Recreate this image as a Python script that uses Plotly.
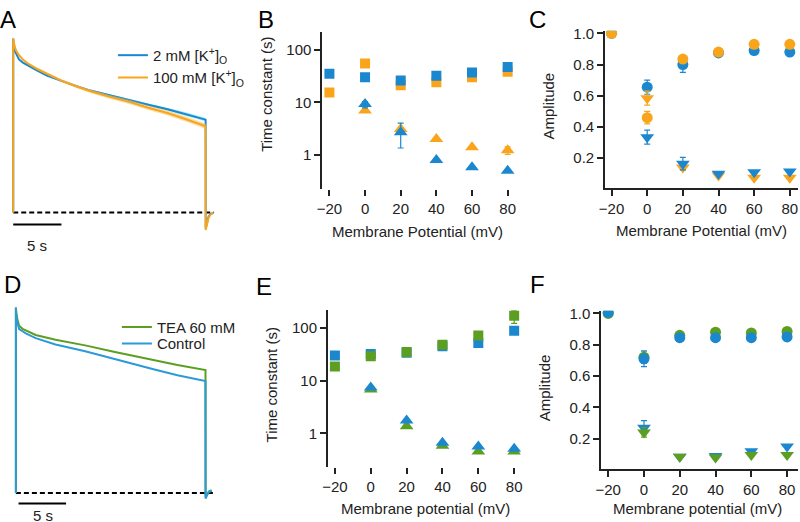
import plotly.graph_objects as go

W, H = 800, 522

# ---- panel A: normalized current traces (2 mM vs 100 mM [K+]o)
t_a = [0, 0, 0.05, 0.15, 0.3, 0.6, 1.0, 1.5, 2.5, 3.5, 5, 6.5, 8, 10, 12, 14, 16, 18, 19.95,
       19.96, 20.1, 20.25, 20.45, 20.7]
i_a_2mm = [0, 1.0, 0.96, 0.93, 0.91, 0.88, 0.862, 0.845, 0.815, 0.787, 0.755, 0.727, 0.701,
           0.673, 0.645, 0.62, 0.594, 0.565, 0.534, -0.09, -0.05, -0.025, -0.01, -0.002]
i_a_100mm = [0, 1.0, 0.985, 0.955, 0.93, 0.905, 0.88, 0.858, 0.825, 0.798, 0.758, 0.726, 0.697,
             0.665, 0.636, 0.602, 0.572, 0.535, 0.496, -0.1, -0.06, -0.03, -0.012, -0.003]
sem_a_2mm = [0, 0, 0, 0, 0.002, 0.003, 0.003, 0.004, 0.004, 0.005, 0.005, 0.006, 0.006,
             0.007, 0.008, 0.008, 0.009, 0.01, 0.01, 0, 0, 0, 0, 0]
sem_a_100mm = [0, 0, 0, 0, 0.002, 0.003, 0.004, 0.005, 0.006, 0.007, 0.008, 0.009, 0.01,
               0.011, 0.012, 0.013, 0.014, 0.015, 0.016, 0, 0, 0, 0, 0]

# ---- panel D: TEA 60 mM vs control
t_d = [0, 0, 0.05, 0.15, 0.34, 0.7, 1.04, 2.08, 4.17, 7.29, 10.42, 14.58, 17, 19.95,
       19.96, 20.1, 20.3, 20.6]
i_d_tea = [0, 1.0, 0.97, 0.94, 0.902, 0.885, 0.876, 0.852, 0.826, 0.796, 0.76, 0.716, 0.69, 0.663,
           -0.02, -0.008, 0.006, 0.012]
i_d_ctrl = [0, 1.0, 0.955, 0.92, 0.884, 0.872, 0.861, 0.835, 0.801, 0.764, 0.721, 0.666, 0.635, 0.604,
            -0.03, -0.012, 0.008, 0.015]

vm = [-20, 0, 20, 40, 60, 80]

# ---- panel B: time constants (s)
tau_slow_2mm = [35, 30, 26, 32, 37, 47]
tau_slow_100mm = [15.4, 55, 21, 24, 30, 38]
tau_fast_2mm = [None, 9.3, 2.7, 0.8, 0.58, 0.5]
tau_fast_2mm_err_up = [0, 1.0, 1.3, 0, 0, 0]
tau_fast_2mm_err_dn = [0, 1.5, 1.35, 0, 0, 0]
tau_fast_100mm = [None, 7.0, 3.1, 2.0, 1.4, 1.22]
tau_fast_100mm_err = [0, 0.4, 0, 0, 0, 0.2]

# ---- panel C: amplitudes
amp_slow_2mm = [1.0, 0.655, 0.80, 0.875, 0.89, 0.88]
amp_slow_2mm_err = [0, 0.045, 0.05, 0, 0, 0]
amp_slow_100mm = [1.0, 0.46, 0.835, 0.88, 0.93, 0.93]
amp_slow_100mm_err = [0, 0.04, 0.01, 0, 0, 0]
amp_fast_2mm = [None, 0.335, 0.165, 0.10, 0.11, 0.115]
amp_fast_2mm_err = [0, 0.045, 0.04, 0, 0, 0]
amp_fast_100mm = [None, 0.585, 0.14, 0.09, 0.075, 0.075]
amp_fast_100mm_err = [0, 0.045, 0.015, 0, 0, 0]

# ---- panel E: time constants, TEA
tau_slow_ctrl = [30, 32, 34, 45, 52, 89]
tau_slow_tea = [18.5, 29, 35, 48, 72, 170]
tau_slow_tea_err = [0, 0, 0, 0, 0, 48]
tau_fast_ctrl = [None, 7.4, 1.75, 0.66, 0.56, 0.51]
tau_fast_tea = [None, 6.8, 1.37, 0.58, 0.45, 0.45]
tau_fast_tea_err = [0, 0, 0.12, 0, 0, 0]

# ---- panel F: amplitudes, TEA
amp_slow_ctrl = [1.006, 0.71, 0.845, 0.845, 0.845, 0.85]
amp_slow_ctrl_err = [0, 0.05, 0, 0, 0, 0]
amp_slow_tea = [1.0, 0.72, 0.86, 0.88, 0.875, 0.885]
amp_slow_tea_err = [0, 0.04, 0, 0, 0, 0]
amp_fast_ctrl = [None, 0.27, 0.085, 0.09, 0.12, 0.15]
amp_fast_ctrl_err = [0, 0.045, 0, 0, 0, 0]
amp_fast_tea = [None, 0.24, 0.085, 0.08, 0.095, 0.095]
amp_fast_tea_err = [0, 0.03, 0, 0, 0, 0]

BLUE = "#1a87cf"
ORANGE = "#f9a51b"
GREEN = "#5c9e21"
LBLUE = "#2b9ad9"
INK = "#222222"
FONT = "Liberation Sans, Arial, sans-serif"
FS = 15


def px(x):
    return x / W


def py(y):
    return 1 - y / H


fig = go.Figure()


def band(t, mean, sem, color, xa, ya):
    upper = [m + s for m, s in zip(mean, sem)]
    lower = [m - s for m, s in zip(mean, sem)]
    fig.add_trace(go.Scatter(x=t, y=upper, mode="lines", line=dict(width=0), showlegend=False,
                             hoverinfo="skip", xaxis=xa, yaxis=ya))
    fig.add_trace(go.Scatter(x=t, y=lower, mode="lines", line=dict(width=0), fill="tonexty",
                             fillcolor=color, showlegend=False, hoverinfo="skip", xaxis=xa, yaxis=ya))


# panel A
band(t_a, i_a_2mm, sem_a_2mm, "rgba(90,225,245,0.6)", "x", "y")
fig.add_trace(go.Scatter(x=t_a, y=i_a_2mm, mode="lines", line=dict(color=BLUE, width=2),
                         name="2 mM [K<sup>+</sup>]<sub>O</sub>", legend="legend"))
band(t_a, i_a_100mm, sem_a_100mm, "rgba(249,190,90,0.5)", "x", "y")
fig.add_trace(go.Scatter(x=t_a, y=i_a_100mm, mode="lines", line=dict(color=ORANGE, width=2),
                         name="100 mM [K<sup>+</sup>]<sub>O</sub>", legend="legend2"))

# panel D
fig.add_trace(go.Scatter(x=t_d, y=i_d_tea, mode="lines", line=dict(color=GREEN, width=2),
                         name="TEA 60 mM", xaxis="x4", yaxis="y4", legend="legend3"))
fig.add_trace(go.Scatter(x=t_d, y=i_d_ctrl, mode="lines", line=dict(color=LBLUE, width=2),
                         name="Control", xaxis="x4", yaxis="y4", legend="legend4"))


def pts(y, color, symbol, size, xa, ya, up=None, dn=None):
    err = None
    if up is not None:
        err = dict(type="data", array=up, arrayminus=dn if dn is not None else up,
                   color=color, thickness=1.2, width=3)
    fig.add_trace(go.Scatter(x=vm, y=y, mode="markers", showlegend=False, error_y=err,
                             marker=dict(color=color, symbol=symbol, size=size, line=dict(width=0)),
                             xaxis=xa, yaxis=ya))


# panel B
pts(tau_slow_100mm, ORANGE, "square", 10, "x2", "y2")
pts(tau_slow_2mm, BLUE, "square", 10, "x2", "y2")
pts(tau_fast_100mm, ORANGE, "triangle-up", 12, "x2", "y2", tau_fast_100mm_err)
pts(tau_fast_2mm, BLUE, "triangle-up", 12, "x2", "y2", tau_fast_2mm_err_up, tau_fast_2mm_err_dn)

# panel C
pts(amp_slow_2mm, BLUE, "circle", 11, "x3", "y3", amp_slow_2mm_err)
pts(amp_slow_100mm, ORANGE, "circle", 11, "x3", "y3", amp_slow_100mm_err)
pts(amp_fast_100mm, ORANGE, "triangle-down", 12, "x3", "y3", amp_fast_100mm_err)
pts(amp_fast_2mm, BLUE, "triangle-down", 12, "x3", "y3", amp_fast_2mm_err)

# panel E
pts(tau_slow_ctrl, BLUE, "square", 10, "x5", "y5")
pts(tau_slow_tea, GREEN, "square", 10, "x5", "y5", tau_slow_tea_err)
pts(tau_fast_tea, GREEN, "triangle-up", 12, "x5", "y5", tau_fast_tea_err)
pts(tau_fast_ctrl, BLUE, "triangle-up", 12, "x5", "y5")

# panel F
pts(amp_slow_tea, GREEN, "circle", 11, "x6", "y6", amp_slow_tea_err)
pts(amp_slow_ctrl, BLUE, "circle", 11, "x6", "y6", amp_slow_ctrl_err)
pts(amp_fast_ctrl, BLUE, "triangle-down", 12, "x6", "y6", amp_fast_ctrl_err)
pts(amp_fast_tea, GREEN, "triangle-down", 12, "x6", "y6", amp_fast_tea_err)

hidden = dict(visible=False, fixedrange=True)
tick_font = dict(family=FONT, size=FS, color=INK)


def xscatter(x0, x1, rng, line):
    return dict(domain=[px(x0), px(x1)], range=rng, tickvals=vm, ticks="outside", ticklen=6,
                tickwidth=1.5, tickcolor=INK, showline=line, linecolor=INK, linewidth=1.5,
                showgrid=False, zeroline=False, tickfont=tick_font)


def ylog(y0, y1, rng):
    return dict(domain=[py(y1), py(y0)], type="log", range=rng, tickvals=[1, 10, 100],
                ticktext=["1", "10", "100"], ticks="outside", ticklen=6, tickwidth=1.5,
                tickcolor=INK, showline=True, linecolor=INK, linewidth=1.5, showgrid=False,
                zeroline=False, tickfont=tick_font)


def yamp(y0, y1, rng):
    return dict(domain=[py(y1), py(y0)], range=rng, tickvals=[0.2, 0.4, 0.6, 0.8, 1.0],
                tickformat=".1f", ticks="outside", ticklen=6, tickwidth=1.5, tickcolor=INK,
                showline=True, linecolor=INK, linewidth=1.5, showgrid=False, zeroline=False,
                tickfont=tick_font)


fig.update_layout(
    width=W, height=H, margin=dict(l=0, r=0, t=0, b=0),
    plot_bgcolor="white", paper_bgcolor="white",
    font=dict(family=FONT, size=FS, color=INK),
    xaxis=dict(domain=[0, px(240)], range=[-0.75, 23.89], anchor="y", **hidden),
    yaxis=dict(domain=[py(245), py(25)], range=[-0.2045, 1.045], anchor="x", **hidden),
    xaxis4=dict(domain=[0, px(240)], range=[-1.04, 23.96], anchor="y4", **hidden),
    yaxis4=dict(domain=[py(522), py(290)], range=[-0.156, 1.08], anchor="x4", **hidden),
    xaxis2=dict(anchor="y2", **xscatter(319.3, 515, [-24.1, 84.6], False)),
    yaxis2=dict(anchor="x2", **ylog(26.7, 185, [-0.647, 2.33])),
    xaxis3=dict(anchor="y3", **xscatter(605, 800, [-23.7, 84.6], True)),
    yaxis3=dict(anchor="x3", **yamp(25, 184, [0.0101, 1.017])),
    xaxis5=dict(anchor="y5", **xscatter(325, 520, [-24.0, 83.7], False)),
    yaxis5=dict(anchor="x5", **ylog(307.7, 466, [-0.632, 2.338])),
    xaxis6=dict(anchor="y6", **xscatter(601, 800, [-24.04, 86.1], True)),
    yaxis6=dict(anchor="x6", **yamp(308.3, 468.3, [0.0068, 1.017])),
)

leg = dict(xanchor="left", yanchor="middle", bgcolor="rgba(0,0,0,0)", borderwidth=0,
           font=dict(family=FONT, size=FS, color=INK))
fig.update_layout(
    legend=dict(x=px(108), y=py(50), **leg),
    legend2=dict(x=px(108), y=py(72.7), **leg),
    legend3=dict(x=px(112), y=py(325), **leg),
    legend4=dict(x=px(112), y=py(341.7), **leg),
)

# baselines and scale bars
dash = dict(color="black", width=2, dash="5px,3px")
bar = dict(color="black", width=2)
fig.add_shape(type="line", xref="x", yref="y", x0=0, x1=20.8, y0=0, y1=0, line=dash, layer="below")
fig.add_shape(type="line", xref="x", yref="y", x0=0, x1=5, y0=-0.068, y1=-0.068, line=bar)
fig.add_shape(type="line", xref="x4", yref="y4", x0=0, x1=20.8, y0=0, y1=0, line=dash, layer="below")
fig.add_shape(type="line", xref="x4", yref="y4", x0=0.28, x1=5.28, y0=-0.0565, y1=-0.0565, line=bar)

ann = []
ann.append(dict(x=2.5, y=-0.19, xref="x", yref="y", text="5 s", showarrow=False))
ann.append(dict(x=2.9, y=-0.122, xref="x4", yref="y4", text="5 s", showarrow=False))

# panel letters
for letter, lx, ly in [("A", -8, 14), ("B", 253, 14), ("C", 526, 14),
                       ("D", -4, 282), ("E", 251, 284), ("F", 527, 282)]:
    ann.append(dict(x=px(lx), y=py(ly), xref="paper", yref="paper", xanchor="left",
                    yanchor="middle", text=letter, showarrow=False,
                    font=dict(family=FONT, size=24, color="black")))

# axis titles
for text, cx, cy, rot in [
    ("Time constant (s)", 263.5, 89, -90), ("Membrane Potential (mV)", 416, 227.7, 0),
    ("Amplitude", 548.5, 101.7, -90), ("Membrane Potential (mV)", 702.5, 226.7, 0),
    ("Time constant (s)", 268.5, 383, -90), ("Membrane potential (mV)", 423.3, 508.3, 0),
    ("Amplitude", 543.5, 386.7, -90), ("Membrane potential (mV)", 698.8, 508.3, 0),
]:
    ann.append(dict(x=px(cx), y=py(cy), xref="paper", yref="paper", xanchor="center",
                    yanchor="middle", text=text, textangle=rot, showarrow=False))

fig.update_layout(annotations=ann)

# drop the page's default body margin so the 800x522 figure fills the window
fig.write_html("out.html", config={"displayModeBar": False},
               post_script="document.body.style.margin='0';")
